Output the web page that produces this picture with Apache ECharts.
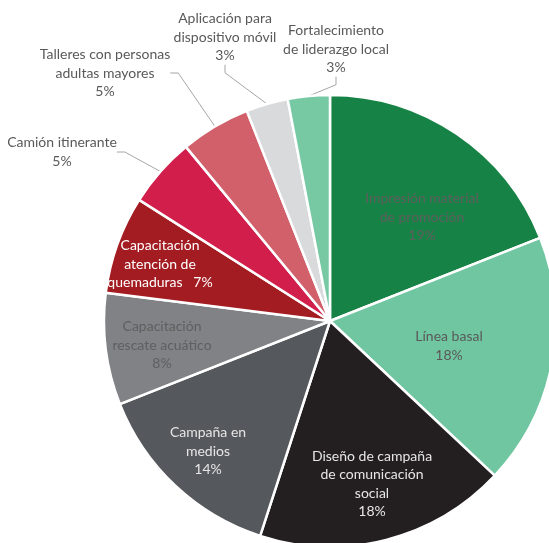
<!DOCTYPE html>
<html>
<head>
<meta charset="utf-8">
<script src="https://cdn.jsdelivr.net/npm/echarts@6/dist/echarts.min.js"></script>
<style>
  html, body { margin: 0; padding: 0; background: #ffffff; }
  #chart { width: 549px; height: 543px; }
</style>
</head>
<body>
<div id="chart"></div>
<script>
// Budget shares by activity (percent), clockwise from 12 o'clock
const categories = [
  'Impresión material\nde promoción',
  'Línea basal',
  'Diseño de campaña\nde comunicación\nsocial',
  'Campaña en\nmedios',
  'Capacitación\nrescate acuático',
  'Capacitación\natención de\nquemaduras',
  'Camión itinerante',
  'Talleres con personas\nadultas mayores',
  'Aplicación para\ndispositivo móvil',
  'Fortalecimiento\nde liderazgo local'
];
const shares = [19, 18, 18, 14, 8, 7, 5, 5, 3, 3];

const sliceColors = ['#178245', '#70C6A0', '#231F20', '#55585C', '#808286',
                     '#A31C22', '#D11E4B', '#D1606B', '#D9DADC', '#77C9A4'];
const labelColors = ['#5f5f5f', '#595959', '#e6e6e6', '#e6e6e6', '#5f5f5f',
                     '#ffffff', '#595959', '#595959', '#595959', '#595959'];
const outsideLabel = [false, false, false, false, false, false, true, true, true, true];

// where each label block sits (center of the text block)
const labelSpots = [
  [422, 217], [449, 346], [372, 484], [208, 451], [162, 345],
  [160, 264], [62, 152], [105, 73], [225, 37], [336, 49]
];

const chart = echarts.init(document.getElementById('chart'), null, { renderer: 'canvas' });

const data = categories.map((name, i) => ({
  name: name,
  value: shares[i],
  itemStyle: { color: sliceColors[i] },
  label: {
    position: outsideLabel[i] ? 'outside' : 'inside',
    color: labelColors[i],
    formatter: i === 5 ? '{b}   {c}%' : '{b}\n{c}%'
  },
  labelLine: { show: outsideLabel[i] }
}));

chart.setOption({
  animation: false,
  series: [{
    type: 'pie',
    center: [330, 321],
    radius: 226,
    startAngle: 90,
    clockwise: true,
    avoidLabelOverlap: false,
    itemStyle: { borderColor: '#ffffff', borderWidth: 2.5 },
    label: {
      fontFamily: 'Lato, "Open Sans", sans-serif',
      fontSize: 14,
      lineHeight: 18.5,
      align: 'center'
    },
    labelLine: {
      length: 12,
      length2: 8,
      lineStyle: { color: '#a6a6a6', width: 1 }
    },
    labelLayout: function (params) {
      const p = labelSpots[params.dataIndex];
      return { x: p[0], y: p[1], align: 'center', verticalAlign: 'middle' };
    },
    data: data
  }]
});
</script>
</body>
</html>
